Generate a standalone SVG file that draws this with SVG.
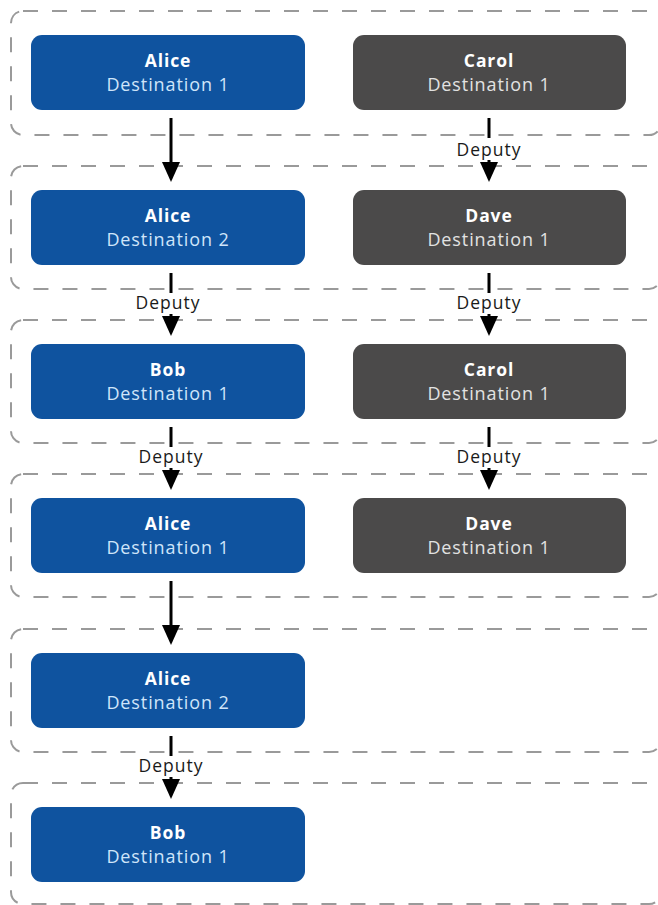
<svg xmlns="http://www.w3.org/2000/svg" width="658" height="905" viewBox="0 0 658 905">
<style>
.bg{fill:#ffffff}
.grp{fill:none;stroke:#9a9a9a;stroke-width:2;stroke-dasharray:15 14}
.blue{fill:#0f539f}
.gray{fill:#4b4a4a}
.name{font-family:"Open Sans","Liberation Sans",sans-serif;font-weight:700;font-size:17.5px;letter-spacing:0.9px;fill:#ffffff;text-anchor:middle}
.dest{font-family:"Open Sans","Liberation Sans",sans-serif;font-size:18px;letter-spacing:0.9px;text-anchor:middle}
.blue-dest{fill:#cfe5fa}
.gray-dest{fill:#e2e2e2}
.conn{fill:none;stroke:#000;stroke-width:3}
.lbl{font-family:"Open Sans","Liberation Sans",sans-serif;font-size:17.5px;letter-spacing:1px;fill:#1a1a1a;text-anchor:middle}
</style>
<defs>
<marker id="ah" viewBox="0 -10 20 20" markerWidth="20" markerHeight="20" refX="10" refY="0" orient="auto" markerUnits="userSpaceOnUse">
<path d="M0,-9 L20,0 L0,9 Z" fill="#000"/>
</marker>
</defs>
<rect class="bg" width="658" height="905"/>
<g id="groups">
<rect class="grp" x="11" y="11" width="650" height="124" rx="12"/>
<rect class="grp" x="11" y="166" width="650" height="123" rx="12"/>
<rect class="grp" x="11" y="320" width="650" height="123" rx="12"/>
<rect class="grp" x="11" y="474" width="650" height="123" rx="12"/>
<rect class="grp" x="11" y="629" width="650" height="123" rx="12"/>
<rect class="grp" x="11" y="783" width="650" height="121" rx="12"/>
</g>
<g id="connectors">
<path class="conn" d="M171,118 V172" marker-end="url(#ah)"/>
<path class="conn" d="M489,118 V138 M489,160 V172" marker-end="url(#ah)"/>
<text class="lbl" x="489" y="156">Deputy</text>
<path class="conn" d="M171,273 V293 M171,314 V326" marker-end="url(#ah)"/>
<text class="lbl" x="168" y="309">Deputy</text>
<path class="conn" d="M489,273 V293 M489,314 V326" marker-end="url(#ah)"/>
<text class="lbl" x="489" y="309">Deputy</text>
<path class="conn" d="M171,427 V447 M171,468 V480" marker-end="url(#ah)"/>
<text class="lbl" x="171" y="463">Deputy</text>
<path class="conn" d="M489,427 V447 M489,468 V480" marker-end="url(#ah)"/>
<text class="lbl" x="489" y="463">Deputy</text>
<path class="conn" d="M171,581 V635" marker-end="url(#ah)"/>
<path class="conn" d="M171,736 V756 M171,777 V789" marker-end="url(#ah)"/>
<text class="lbl" x="171" y="772">Deputy</text>
</g>
<g id="alice-1">
<rect class="blue" x="31" y="35" width="274" height="75" rx="11"/>
<text class="name" x="168" y="67">Alice</text>
<text class="dest blue-dest" x="168" y="91">Destination 1</text>
</g>
<g id="carol-1">
<rect class="gray" x="353" y="35" width="273" height="75" rx="11"/>
<text class="name" x="489" y="67">Carol</text>
<text class="dest gray-dest" x="489" y="91">Destination 1</text>
</g>
<g id="alice-2">
<rect class="blue" x="31" y="190" width="274" height="75" rx="11"/>
<text class="name" x="168" y="222">Alice</text>
<text class="dest blue-dest" x="168" y="246">Destination 2</text>
</g>
<g id="dave-1">
<rect class="gray" x="353" y="190" width="273" height="75" rx="11"/>
<text class="name" x="489" y="222">Dave</text>
<text class="dest gray-dest" x="489" y="246">Destination 1</text>
</g>
<g id="bob-1">
<rect class="blue" x="31" y="344" width="274" height="75" rx="11"/>
<text class="name" x="168" y="376">Bob</text>
<text class="dest blue-dest" x="168" y="400">Destination 1</text>
</g>
<g id="carol-2">
<rect class="gray" x="353" y="344" width="273" height="75" rx="11"/>
<text class="name" x="489" y="376">Carol</text>
<text class="dest gray-dest" x="489" y="400">Destination 1</text>
</g>
<g id="alice-3">
<rect class="blue" x="31" y="498" width="274" height="75" rx="11"/>
<text class="name" x="168" y="530">Alice</text>
<text class="dest blue-dest" x="168" y="554">Destination 1</text>
</g>
<g id="dave-2">
<rect class="gray" x="353" y="498" width="273" height="75" rx="11"/>
<text class="name" x="489" y="530">Dave</text>
<text class="dest gray-dest" x="489" y="554">Destination 1</text>
</g>
<g id="alice-4">
<rect class="blue" x="31" y="653" width="274" height="75" rx="11"/>
<text class="name" x="168" y="685">Alice</text>
<text class="dest blue-dest" x="168" y="709">Destination 2</text>
</g>
<g id="bob-2">
<rect class="blue" x="31" y="807" width="274" height="75" rx="11"/>
<text class="name" x="168" y="839">Bob</text>
<text class="dest blue-dest" x="168" y="863">Destination 1</text>
</g>
</svg>
